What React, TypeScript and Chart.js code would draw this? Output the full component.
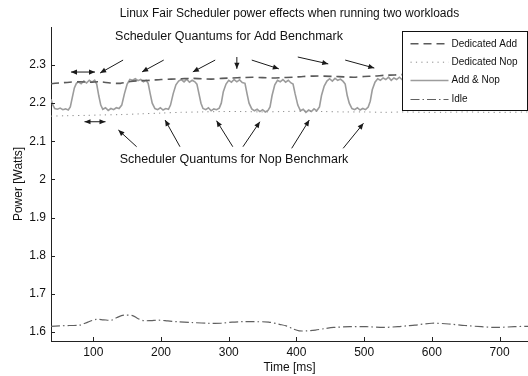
import React, { useEffect, useRef } from "react";
import { Chart, registerables } from "chart.js";

Chart.register(...registerables);

const FONT = "'Liberation Sans', Arial, Helvetica, sans-serif";

const TITLE = "Linux Fair Scheduler power effects when running two workloads";
const X_LABEL = "Time [ms]";
const Y_LABEL = "Power [Watts]";
const X_TICKS = [100, 200, 300, 400, 500, 600, 700];
const Y_TICKS = [1.6, 1.7, 1.8, 1.9, 2, 2.1, 2.2, 2.3];
const X_RANGE = [37.5, 742];
const Y_RANGE = [1.5764, 2.3997];
const SERIES_NAMES = ["Dedicated Add", "Dedicated Nop", "Add & Nop", "Idle"];

// [time ms, power W]
const dedicatedAdd: [number, number][] = [
  [37.5, 2.251], [50, 2.253], [65, 2.255], [80, 2.256], [95, 2.255], [110, 2.256],
  [125, 2.253], [140, 2.252], [155, 2.257], [170, 2.259], [185, 2.26], [200, 2.262],
  [215, 2.263], [230, 2.264], [245, 2.265], [260, 2.264], [275, 2.263], [290, 2.265],
  [305, 2.266], [320, 2.267], [335, 2.268], [350, 2.267], [365, 2.266], [380, 2.267],
  [395, 2.268], [410, 2.27], [425, 2.271], [440, 2.271], [455, 2.27], [470, 2.269],
  [485, 2.268], [500, 2.27], [515, 2.271], [530, 2.273], [545, 2.274], [560, 2.275],
  [600, 2.275], [650, 2.276], [700, 2.275], [742, 2.276],
];

const dedicatedNop: [number, number][] = [
  [37.5, 2.166], [60, 2.167], [90, 2.168], [110, 2.169], [140, 2.17], [170, 2.172],
  [200, 2.174], [230, 2.176], [260, 2.177], [290, 2.178], [320, 2.178], [350, 2.177],
  [380, 2.178], [410, 2.179], [440, 2.178], [470, 2.177], [500, 2.177], [530, 2.176],
  [560, 2.177], [590, 2.176], [620, 2.176], [650, 2.177], [680, 2.176], [710, 2.176],
  [742, 2.177],
];

const addAndNop: [number, number][] = [
  [37.5, 2.21], [40, 2.196], [43, 2.186], [47, 2.184], [51, 2.187], [55, 2.183], [59, 2.185],
  [63, 2.182], [66, 2.19], [69, 2.215], [72, 2.24], [75, 2.252], [78, 2.256], [82, 2.251],
  [86, 2.258], [90, 2.253], [94, 2.26], [98, 2.255], [102, 2.26], [105, 2.25], [108, 2.22],
  [111, 2.195], [114, 2.184], [118, 2.188], [122, 2.181], [126, 2.186], [130, 2.183],
  [134, 2.188], [138, 2.186], [142, 2.195], [146, 2.225], [150, 2.25], [154, 2.262],
  [158, 2.26], [162, 2.264], [166, 2.259], [170, 2.262], [174, 2.256], [178, 2.26],
  [181, 2.252], [184, 2.225], [187, 2.2], [191, 2.186], [195, 2.183], [199, 2.188],
  [203, 2.182], [207, 2.186], [211, 2.184], [214, 2.195], [218, 2.225], [222, 2.248],
  [226, 2.258], [230, 2.262], [234, 2.256], [238, 2.263], [242, 2.255], [246, 2.26],
  [250, 2.256], [253, 2.25], [256, 2.225], [259, 2.2], [262, 2.186], [266, 2.183],
  [270, 2.188], [274, 2.18], [278, 2.185], [282, 2.183], [286, 2.187], [289, 2.2],
  [292, 2.23], [296, 2.25], [300, 2.26], [304, 2.255], [308, 2.262], [312, 2.256],
  [316, 2.261], [320, 2.254], [324, 2.252], [327, 2.225], [330, 2.2], [334, 2.185],
  [338, 2.18], [342, 2.184], [346, 2.178], [350, 2.183], [354, 2.177], [358, 2.181],
  [361, 2.19], [364, 2.22], [368, 2.248], [372, 2.26], [376, 2.256], [380, 2.262],
  [384, 2.255], [388, 2.26], [392, 2.253], [395, 2.25], [398, 2.225], [402, 2.195],
  [406, 2.18], [410, 2.184], [414, 2.176], [418, 2.182], [422, 2.178], [426, 2.185],
  [430, 2.18], [434, 2.19], [437, 2.22], [441, 2.245], [445, 2.258], [449, 2.264],
  [453, 2.258], [457, 2.265], [461, 2.26], [465, 2.263], [469, 2.257], [472, 2.25],
  [475, 2.22], [478, 2.2], [482, 2.186], [486, 2.183], [490, 2.188], [494, 2.182],
  [498, 2.186], [502, 2.183], [506, 2.19], [509, 2.205], [512, 2.235], [516, 2.255],
  [520, 2.264], [524, 2.26], [528, 2.266], [532, 2.262], [536, 2.268], [540, 2.26],
  [544, 2.266], [548, 2.262], [552, 2.268], [556, 2.262], [560, 2.266],
];

const idle: [number, number][] = [
  [37.5, 1.615], [50, 1.616], [65, 1.617], [80, 1.618], [92, 1.626], [104, 1.633],
  [115, 1.632], [127, 1.631], [135, 1.638], [145, 1.644], [158, 1.643], [165, 1.636],
  [174, 1.63], [185, 1.63], [196, 1.631], [210, 1.629], [223, 1.627], [245, 1.625],
  [267, 1.623], [289, 1.623], [305, 1.626], [320, 1.627], [335, 1.627], [359, 1.626],
  [375, 1.62], [385, 1.616], [395, 1.608], [404, 1.603], [415, 1.603], [428, 1.605],
  [442, 1.609], [455, 1.612], [479, 1.614], [503, 1.614], [528, 1.612], [550, 1.614],
  [562, 1.616], [575, 1.618], [600, 1.623], [625, 1.621], [649, 1.617], [673, 1.614],
  [695, 1.612], [722, 1.614], [742, 1.615],
];

// Annotation texts: [text, time, power]
const ANNOTATION_TEXTS: [string, number, number][] = [
  ["Scheduler Quantums for Add Benchmark", 300.4, 2.3734],
  ["Scheduler Quantums for Nop Benchmark", 307.8, 2.0509],
];

// Arrows: [fromTime, fromPower, toTime, toPower, doubleHeaded(1/0)]
const ARROWS: [number, number, number, number, number][] = [
  [144, 2.313, 110, 2.279, 0],
  [204, 2.313, 172, 2.282, 0],
  [280, 2.313, 247, 2.282, 0],
  [312, 2.321, 312, 2.29, 0],
  [334, 2.313, 374, 2.29, 0],
  [402, 2.321, 447, 2.303, 0],
  [472, 2.313, 515, 2.292, 0],
  [67, 2.2816, 102.5, 2.2816, 1],
  [87, 2.1513, 118, 2.1513, 1],
  [164, 2.0858, 137, 2.1296, 0],
  [228, 2.0858, 206, 2.1558, 0],
  [306, 2.0858, 282, 2.154, 0],
  [321, 2.0858, 346, 2.1513, 0],
  [393, 2.0816, 419, 2.1558, 0],
  [469, 2.0816, 499, 2.1471, 0],
];

const toXY = (arr: [number, number][]) => arr.map(([x, y]) => ({ x, y }));

function drawArrowHead(ctx: CanvasRenderingContext2D, x1: number, y1: number, x2: number, y2: number) {
  const ang = Math.atan2(y2 - y1, x2 - x1);
  const len = 6;
  const w = 2.6;
  ctx.beginPath();
  ctx.moveTo(x2, y2);
  ctx.lineTo(x2 - len * Math.cos(ang) + w * Math.sin(ang), y2 - len * Math.sin(ang) - w * Math.cos(ang));
  ctx.lineTo(x2 - len * Math.cos(ang) - w * Math.sin(ang), y2 - len * Math.sin(ang) + w * Math.cos(ang));
  ctx.closePath();
  ctx.fill();
}

const overlayPlugin = {
  id: "overlay",
  afterDatasetsDraw(chart: any) {
    const { ctx, chartArea, scales } = chart;
    const xs = scales.x;
    const ys = scales.y;
    ctx.save();
    // inward tick marks
    ctx.strokeStyle = "#222";
    ctx.lineWidth = 1;
    X_TICKS.forEach((v) => {
      const px = Math.round(xs.getPixelForValue(v)) + 0.5;
      ctx.beginPath();
      ctx.moveTo(px, chartArea.bottom);
      ctx.lineTo(px, chartArea.bottom - 4);
      ctx.stroke();
    });
    Y_TICKS.forEach((v) => {
      const py = Math.round(ys.getPixelForValue(v)) + 0.5;
      ctx.beginPath();
      ctx.moveTo(chartArea.left, py);
      ctx.lineTo(chartArea.left + 4, py);
      ctx.stroke();
    });

    // arrows
    ctx.strokeStyle = "#1a1a1a";
    ctx.fillStyle = "#1a1a1a";
    ctx.lineWidth = 1;
    ARROWS.forEach(([t1, p1, t2, p2, dbl]) => {
      const x1 = xs.getPixelForValue(t1);
      const y1 = ys.getPixelForValue(p1);
      const x2 = xs.getPixelForValue(t2);
      const y2 = ys.getPixelForValue(p2);
      ctx.beginPath();
      ctx.moveTo(x1, y1);
      ctx.lineTo(x2, y2);
      ctx.stroke();
      drawArrowHead(ctx, x1, y1, x2, y2);
      if (dbl) drawArrowHead(ctx, x2, y2, x1, y1);
    });

    // annotation texts
    ctx.font = `12.5px ${FONT}`;
    ctx.fillStyle = "#111";
    ctx.textAlign = "center";
    ctx.textBaseline = "middle";
    ANNOTATION_TEXTS.forEach(([txt, t, p]) => {
      ctx.fillText(txt, xs.getPixelForValue(t), ys.getPixelForValue(p));
    });

    // legend box
    const bw = 125;
    const bh = 79;
    const bx = Math.round(chartArea.right - bw - 1) + 0.5;
    const by = Math.round(chartArea.top + 4) + 0.5;
    ctx.fillStyle = "#fff";
    ctx.fillRect(bx, by, bw, bh);
    ctx.strokeStyle = "#111";
    ctx.lineWidth = 1;
    ctx.strokeRect(bx, by, bw, bh);
    const rows = [12.3, 30.7, 49, 68];
    ctx.font = `10px ${FONT}`;
    ctx.textAlign = "left";
    ctx.textBaseline = "middle";
    chart.data.datasets.forEach((ds: any, i: number) => {
      const ry = by + rows[i];
      ctx.save();
      ctx.strokeStyle = ds.borderColor;
      ctx.lineWidth = ds.borderWidth;
      ctx.setLineDash(ds.borderDash || []);
      ctx.beginPath();
      ctx.moveTo(bx + 8, ry);
      ctx.lineTo(bx + 46, ry);
      ctx.stroke();
      ctx.restore();
      ctx.fillStyle = "#111";
      ctx.fillText(ds.label, bx + 49, ry);
    });
    ctx.restore();
  },
};

export default function App() {
  const ref = useRef<HTMLCanvasElement | null>(null);
  useEffect(() => {
    document.body.style.margin = "0";
    if (!ref.current) return;
    const chart = new Chart(ref.current, {
      type: "line",
      data: {
        datasets: [
          {
            label: SERIES_NAMES[0],
            data: toXY(dedicatedAdd),
            borderColor: "#5a5a5a",
            borderWidth: 1.6,
            borderDash: [8, 5],
            pointRadius: 0,
            tension: 0.3,
          },
          {
            label: SERIES_NAMES[1],
            data: toXY(dedicatedNop),
            borderColor: "#8a8a8a",
            borderWidth: 1,
            borderDash: [1.2, 4.2],
            pointRadius: 0,
            tension: 0.3,
          },
          {
            label: SERIES_NAMES[2],
            data: toXY(addAndNop),
            borderColor: "#9c9c9c",
            borderWidth: 1.6,
            pointRadius: 0,
            tension: 0,
          },
          {
            label: SERIES_NAMES[3],
            data: toXY(idle),
            borderColor: "#606060",
            borderWidth: 1.2,
            borderDash: [9, 3, 1.5, 3],
            pointRadius: 0,
            tension: 0.3,
          },
        ],
      },
      options: {
        animation: false,
        responsive: true,
        maintainAspectRatio: false,
        layout: { padding: 0 },
        plugins: {
          legend: { display: false },
          tooltip: { enabled: false },
          title: {
            display: true,
            text: TITLE,
            fullSize: false,
            color: "#111",
            font: { family: FONT, size: 12, weight: "normal" },
            padding: { top: 6.5, bottom: 6.1 },
          },
        },
        scales: {
          x: {
            type: "linear",
            min: X_RANGE[0],
            max: X_RANGE[1],
            afterBuildTicks: (s: any) => {
              s.ticks = X_TICKS.map((v) => ({ value: v }));
            },
            afterFit: (s: any) => {
              s.height = 35;
            },
            grid: { display: false, drawTicks: false },
            border: { display: true, color: "#222", width: 1 },
            ticks: {
              color: "#111",
              padding: 4,
              maxRotation: 0,
              autoSkip: false,
              font: { family: FONT, size: 12 },
              callback: (v: any) => String(v),
            },
            title: {
              display: true,
              text: X_LABEL,
              color: "#111",
              font: { family: FONT, size: 12 },
              padding: { top: 0, bottom: 1 },
            },
          },
          y: {
            type: "linear",
            min: Y_RANGE[0],
            max: Y_RANGE[1],
            afterBuildTicks: (s: any) => {
              s.ticks = Y_TICKS.map((v) => ({ value: v }));
            },
            afterFit: (s: any) => {
              s.width = 51;
            },
            grid: { display: false, drawTicks: false },
            border: { display: true, color: "#222", width: 1 },
            ticks: {
              color: "#111",
              padding: 5,
              autoSkip: false,
              font: { family: FONT, size: 12 },
              callback: (v: any) => String(Math.round(Number(v) * 10) / 10),
            },
            title: {
              display: true,
              text: Y_LABEL,
              color: "#111",
              font: { family: FONT, size: 12 },
              padding: { top: 11, bottom: 0 },
            },
          },
        },
      },
      plugins: [overlayPlugin],
    });
    return () => chart.destroy();
  }, []);
  return (
    <div style={{ position: "fixed", left: 0, top: 0, width: 528, height: 376 }}>
      <canvas ref={ref} />
    </div>
  );
}
